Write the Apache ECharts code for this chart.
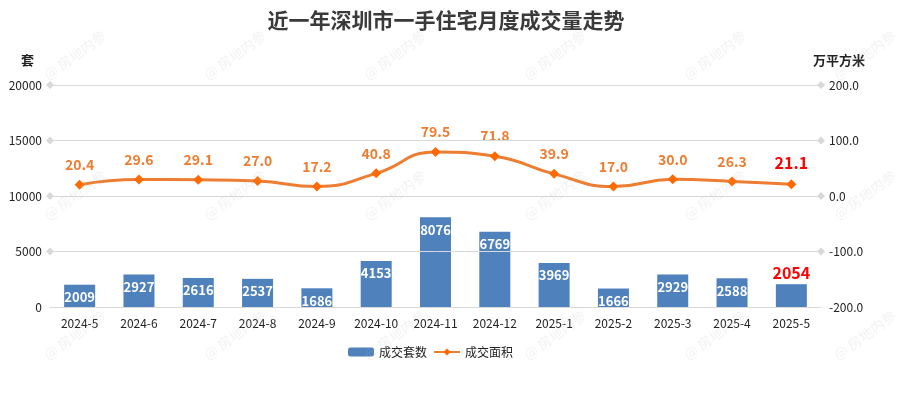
<!DOCTYPE html>
<html><head><meta charset="utf-8">
<script src="https://cdn.jsdelivr.net/npm/echarts@6/dist/echarts.min.js"></script>
<style>html,body{margin:0;padding:0;background:#fff}#c{width:897px;height:393px}</style>
</head><body><div id="c"></div>
<script>
const categories = ['2024-5','2024-6','2024-7','2024-8','2024-9','2024-10','2024-11','2024-12','2025-1','2025-2','2025-3','2025-4','2025-5'];
const units = [2009,2927,2616,2537,1686,4153,8076,6769,3969,1666,2929,2588,2054];
const area = [20.4,29.6,29.1,27.0,17.2,40.8,79.5,71.8,39.9,17.0,30.0,26.3,21.1];
const leftTicks = [0,5000,10000,15000,20000];

const chart = echarts.init(document.getElementById('c'));
const last = units.length - 1;
const wm = [];
const wmPos = [[75,55],[235,55],[395,55],[555,55],[715,55],[865,55],[75,195],[235,195],[395,195],[555,195],[715,195],[865,195],[75,335],[235,335],[395,335],[555,335],[715,335],[865,335]];
wmPos.forEach(p => wm.push({type:'text', x:p[0], y:p[1], rotation: Math.PI/5, z:100, silent:true,
  style:{text:'@ 房地内参', fill:'rgba(190,190,190,0.2)', font:'14px "Noto Sans CJK SC"', align:'center', verticalAlign:'middle'}}));

chart.setOption({
  animation:false,
  textStyle:{fontFamily:'"Noto Sans CJK SC", sans-serif'},
  title:{text:'近一年深圳市一手住宅月度成交量走势', left:441, textAlign:'center', top:5,
    textStyle:{fontSize:21, fontWeight:'bold', color:'#3a3a3a'}},
  legend:{top:341, left:343, itemGap:6, itemWidth:26, itemHeight:9,
    textStyle:{fontSize:12, color:'#222'},
    data:[{name:'成交套数'},{name:'成交面积'}]},
  grid:{left:50, right:76, top:85, bottom:86},
  xAxis:{type:'category', data:categories,
    axisLine:{lineStyle:{color:'#d9d9d9'}}, axisTick:{show:false},
    axisLabel:{color:'#222', fontSize:12, margin:10}},
  yAxis:[
    {type:'value', min:0, max:20000, interval:5000, name:'套', nameLocation:'end', nameGap:18,
     nameTextStyle:{color:'#222', fontSize:13, fontWeight:'bold', align:'right', padding:[0,16,0,0]},
     axisLabel:{color:'#222', fontSize:12, margin:8, formatter:v=>String(v)}, splitLine:{show:false}, axisLine:{show:false}, axisTick:{show:false}},
    {type:'value', min:-200, max:200, interval:100, name:'万平方米', nameLocation:'end', nameGap:18,
     nameTextStyle:{color:'#222', fontSize:13, fontWeight:'bold', align:'left', padding:[0,0,0,-8]},
     axisLabel:{color:'#222', fontSize:12, margin:8, formatter:v=>v.toFixed(1)}, splitLine:{show:false}, axisLine:{show:false}, axisTick:{show:false}}
  ],
  graphic: wm,
  series:[
    {name:'成交套数', type:'bar', barWidth:31, yAxisIndex:0,
     itemStyle:{color:'#4F81BD'},
     data: units.map((v,i)=> i===last ? {value:v, label:{position:'top', color:'#ff0000', fontSize:16, distance:3}} : v),
     label:{show:true, position:'insideTop', color:'#fff', fontWeight:'bold', fontSize:13, distance:6},
     markLine:{silent:true, symbol:['diamond','diamond'], symbolSize:8, label:{show:false},
       lineStyle:{color:'#d9d9d9', type:'solid', width:1},
       data: leftTicks.slice(1).map(t=>({yAxis:t}))}
    },
    {name:'成交面积', type:'line', yAxisIndex:1, smooth:true, symbol:'diamond', symbolSize:10,
     lineStyle:{color:'#ED7D31', width:3}, itemStyle:{color:'#FF6A00'},
     data: area.map((v,i)=> i===last ? {value:v, label:{color:'#ff0000', fontSize:16}} : v),
     label:{show:true, position:'top', color:'#ED7D31', fontWeight:'bold', fontSize:14, distance:8, formatter:p=>Number(p.value).toFixed(1)}
    }
  ]
});
</script></body></html>
